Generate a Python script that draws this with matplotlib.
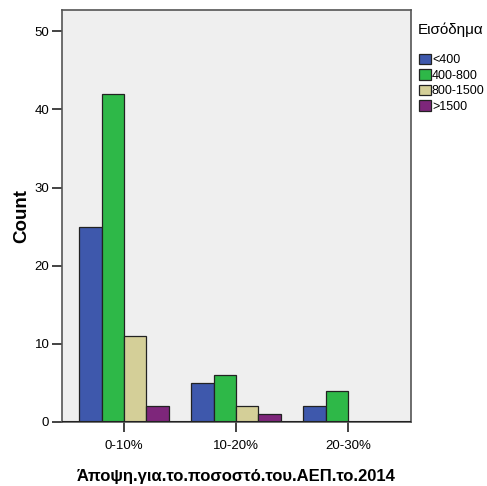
import numpy as np
import matplotlib
matplotlib.use("Agg")
import matplotlib.pyplot as plt

plt.rcParams['font.family'] = ['Liberation Sans', 'DejaVu Sans']

categories = ['0-10%', '10-20%', '20-30%']
income = ['<400', '400-800', '800-1500', '>1500']
counts = {
    '<400': [25, 5, 2],
    '400-800': [42, 6, 4],
    '800-1500': [11, 2, 0],
    '>1500': [2, 1, 0],
}
colors = ['#3E58AC', '#2EB848', '#D4CF98', '#7E267B']

fig = plt.figure(figsize=(4.87, 4.86), dpi=100)
ax = fig.add_axes([0.127, 0.132, 0.717, 0.847])
ax.set_facecolor('#EFEFEF')

x = np.arange(len(categories))
w = 0.2
for i, name in enumerate(income):
    ax.bar(x + (i - 1.5) * w, counts[name], width=w, color=colors[i],
           edgecolor='#222222', linewidth=0.9, label=name, zorder=3)

ax.set_xlim(-0.554, 2.562)
ax.set_ylim(0, 52.7)
ax.set_yticks([0, 10, 20, 30, 40, 50])
ax.set_xticks(x)
ax.set_xticklabels(categories)
ax.tick_params(axis='both', labelsize=9.5, color='#222222', length=7, width=1.2, pad=2)
ax.tick_params(axis='x', pad=6)
for s in ax.spines.values():
    s.set_color('#555555')
    s.set_linewidth(1.2)
ax.axhline(0, color='#222222', lw=1.5, zorder=4)

ax.set_ylabel('Count', fontsize=13.5, fontweight='bold', labelpad=3)
ax.set_xlabel('Άποψη.για.το.ποσοστό.του.ΑΕΠ.το.2014', fontsize=12,
              fontweight='bold', labelpad=12)

fig.text(0.858, 0.938, 'Εισόδημα', fontsize=11, va='center', ha='left')
leg = fig.legend(loc='upper left', bbox_to_anchor=(0.851, 0.9), frameon=False,
                 fontsize=9, handlelength=0.9, handleheight=0.9, handletextpad=0.1,
                 labelspacing=0.25, borderaxespad=0)

fig.savefig('out.png', dpi=100)
